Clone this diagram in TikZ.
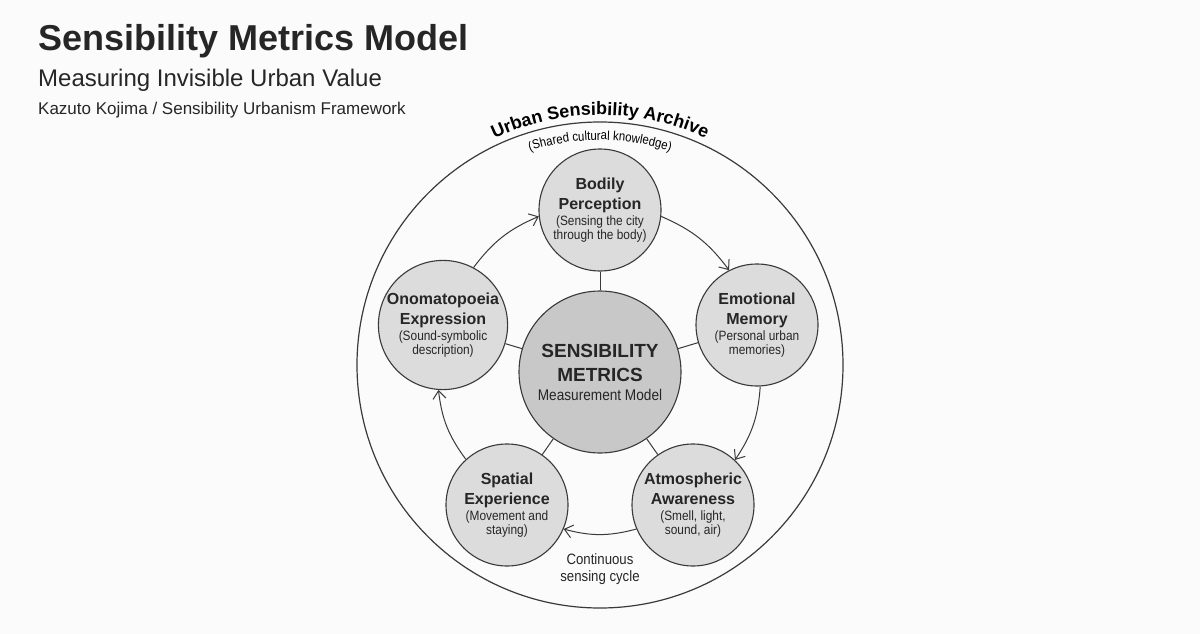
\documentclass[tikz,border=0pt]{standalone}
\usepackage{fontspec}
\setmainfont{Liberation Sans}
\newfontfamily\narrowfont[FakeStretch=0.88]{Liberation Sans}
\usepackage{tikz}
\usetikzlibrary{arrows.meta}
\usetikzlibrary{decorations.text}

\definecolor{inkgray}{HTML}{262626}
\definecolor{rimgray}{HTML}{3A3A3A}
\definecolor{coregray}{HTML}{C8C8C8}
\definecolor{sensorgray}{HTML}{DCDCDC}
\definecolor{pagebg}{HTML}{FBFBFB}

\newcommand{\subnote}[1]{{\narrowfont\fontsize{13.5}{15}\selectfont\mdseries #1}}

\begin{document}
\begin{tikzpicture}[x=1pt,y=1pt,
  sensor/.style={circle,draw=rimgray,line width=1.1pt,fill=sensorgray,minimum size=122pt,inner sep=0pt,align=center,text=inkgray,font=\fontsize{16}{20}\selectfont\bfseries},
  core/.style={circle,draw=rimgray,line width=1.1pt,fill=coregray,minimum size=162pt,inner sep=0pt,align=center,text=inkgray,font=\fontsize{19}{24}\selectfont\bfseries},
  spoke/.style={draw=rimgray,line width=1pt},
  flow/.style={->,>={Straight Barb[length=8pt,width=13pt]},draw=rimgray,line width=1pt},
  heading/.style={anchor=base west,inner sep=0pt,text=inkgray}]

\fill[pagebg] (0,0) rectangle (1200,-634);
\useasboundingbox (0,0) rectangle (1200,-634);

%titles
\node[heading,font=\fontsize{36}{40}\selectfont\bfseries] (title) at (38,-51) {Sensibility Metrics Model};
\node[heading,font=\fontsize{24}{28}\selectfont] (subtitle) at (38,-87) {Measuring Invisible Urban Value};
\node[heading,font=\fontsize{17}{20}\selectfont] (author) at (38,-114) {Kazuto Kojima / Sensibility Urbanism Framework};

%outer archive ring
\node[circle,draw=rimgray,line width=1.2pt,minimum size=486pt,inner sep=0pt] (archive) at (600,-365) {};
\path[decorate,decoration={text along path,text align=center,
  text={|\fontsize{18}{20}\selectfont\bfseries|Urban Sensibility Archive}}]
  (archive.center) ++(150:250) arc[start angle=150,end angle=30,radius=250];
\path[decorate,decoration={text along path,text align=center,
  text={|\narrowfont\fontsize{13}{14}\selectfont|(Shared cultural knowledge)}}]
  (archive.center) ++(135:225) arc[start angle=135,end angle=45,radius=225];

%centre and the five sensing nodes
\node[core] (core) at (600,-372) {SENSIBILITY\\METRICS\\[-5pt]{\narrowfont\fontsize{15.5}{17}\selectfont\mdseries Measurement Model}};
\node[sensor] (body) at (600,-210) {Bodily\\Perception\\[-4pt]\subnote{(Sensing the city}\\[-6pt]\subnote{through the body)}};
\node[sensor] (emo) at (757,-325) {Emotional\\Memory\\[-4pt]\subnote{(Personal urban}\\[-6pt]\subnote{memories)}};
\node[sensor] (atm) at (693,-505) {Atmospheric\\Awareness\\[-4pt]\subnote{(Smell, light,}\\[-6pt]\subnote{sound, air)}};
\node[sensor] (spa) at (507,-505) {Spatial\\Experience\\[-4pt]\subnote{(Movement and}\\[-6pt]\subnote{staying)}};
\node[sensor] (ono) at (443,-325) {Onomatopoeia\\Expression\\[-4pt]\subnote{(Sound-symbolic}\\[-6pt]\subnote{description)}};

%spokes
\draw[spoke] (core) -- (body);
\draw[spoke] (core) -- (emo);
\draw[spoke] (core) -- (atm);
\draw[spoke] (core) -- (spa);
\draw[spoke] (core) -- (ono);

%sensing cycle
\draw[flow] (ono.62) to[bend left=15] (body.186);
\draw[flow] (body.-6) to[bend left=15] (emo.117);
\draw[flow] (emo.-87) to[bend left=15] (atm.47);
\draw[flow] (atm.203) to[bend left=15] (spa.337);
\draw[flow] (spa.132) to[bend left=15] (ono.266);

\node[align=center,text=inkgray,font=\narrowfont\fontsize{15}{17}\selectfont] (cycle) at (600,-569) {Continuous\\sensing cycle};

\end{tikzpicture}
\end{document}
